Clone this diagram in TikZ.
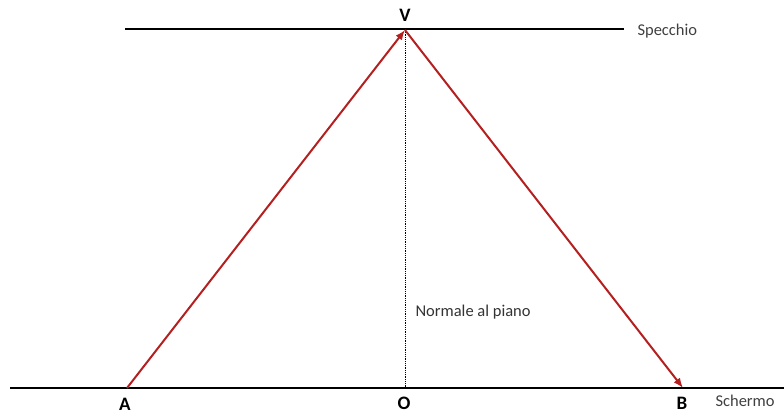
\documentclass[tikz,border=0pt]{standalone}
\usepackage{fontspec}
\setmainfont{Carlito}
\usetikzlibrary{arrows.meta}
\definecolor{raggio}{RGB}{180,32,32}

\begin{document}
\begin{tikzpicture}[x=1pt,y=-1pt]
  \useasboundingbox (0,0) rectangle (784,414);
  \coordinate (sx) at (125,29);
  \coordinate (dx) at (624,29);
  \coordinate (schL) at (10,388);
  \coordinate (schR) at (784,388);
  \coordinate (V) at (405,30);
  \coordinate (A) at (127,388);
  \coordinate (O) at (405,388);
  \coordinate (B) at (683,388);
  \node[font=\fontsize{19}{19}\selectfont\bfseries] (vlab) at (405,15) {V};
  \node[font=\fontsize{19}{19}\selectfont\bfseries] (alab) at (125,404.5) {A};
  \node[font=\fontsize{19}{19}\selectfont\bfseries] (olab) at (404,403) {O};
  \node[font=\fontsize{19}{19}\selectfont\bfseries] (blab) at (682,403) {B};
  \node[font=\fontsize{16.5}{16.5}\selectfont,text=black!75,anchor=west] (spec) at (634,31) {Specchio};
  \node[font=\fontsize{16.5}{16.5}\selectfont,text=black!75,anchor=west] (scher) at (712,401) {Schermo};
  \node[font=\fontsize{16.5}{16.5}\selectfont,text=black!80,anchor=west] (norm) at (412,312) {Normale al piano};
  \draw[line width=2.8pt] (sx) -- (dx);
  \draw[line width=2.8pt] (schL) -- (schR);
  \draw[densely dotted,line width=0.8pt] (V) -- (O);
  \draw[raggio,line width=2pt,-{Latex[length=10pt,width=8pt]}] (A) -- (V);
  \draw[raggio,line width=2pt,-{Latex[length=10pt,width=8pt]}] (V) -- (B);
\end{tikzpicture}
\end{document}
